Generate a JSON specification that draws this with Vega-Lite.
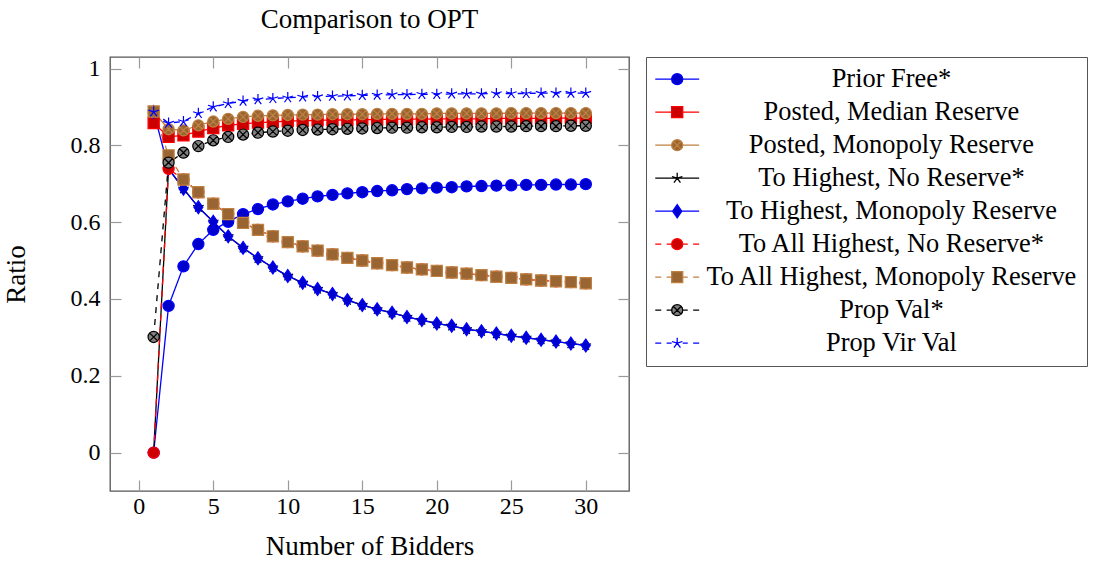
{
  "$schema": "https://vega.github.io/schema/vega-lite/v6.json",
  "background": "white",
  "padding": {"left": 2, "top": 6, "right": 2, "bottom": 2},
  "title": {"text": "Comparison to OPT", "font": "Liberation Serif", "fontSize": 27, "fontWeight": "normal", "color": "black", "anchor": "middle", "frame": "group", "offset": 22},
  "width": 519,
  "height": 434,
  "data": {"values": [
    {"series": "Prior Free*", "n": [1,2,3,4,5,6,7,8,9,10,11,12,13,14,15,16,17,18,19,20,21,22,23,24,25,26,27,28,29,30], "ratio": [0, 0.382, 0.485, 0.543, 0.580, 0.601, 0.621, 0.634, 0.646, 0.654, 0.661, 0.667, 0.671, 0.675, 0.678, 0.681, 0.683, 0.686, 0.688, 0.690, 0.691, 0.693, 0.694, 0.695, 0.696, 0.697, 0.697, 0.698, 0.698, 0.699]},
    {"series": "Posted, Median Reserve", "n": [1,2,3,4,5,6,7,8,9,10,11,12,13,14,15,16,17,18,19,20,21,22,23,24,25,26,27,28,29,30], "ratio": [0.858, 0.822, 0.826, 0.836, 0.845, 0.852, 0.856, 0.859, 0.861, 0.863, 0.864, 0.865, 0.866, 0.866, 0.867, 0.867, 0.868, 0.868, 0.868, 0.869, 0.869, 0.869, 0.869, 0.870, 0.870, 0.870, 0.870, 0.871, 0.871, 0.871]},
    {"series": "Posted, Monopoly Reserve", "n": [1,2,3,4,5,6,7,8,9,10,11,12,13,14,15,16,17,18,19,20,21,22,23,24,25,26,27,28,29,30], "ratio": [0.887, 0.842, 0.839, 0.852, 0.862, 0.869, 0.874, 0.877, 0.878, 0.879, 0.880, 0.880, 0.881, 0.881, 0.881, 0.882, 0.882, 0.882, 0.882, 0.883, 0.883, 0.883, 0.883, 0.883, 0.884, 0.884, 0.884, 0.884, 0.884, 0.884]},
    {"series": "To Highest, No Reserve*", "n": [1,2,3,4,5,6,7,8,9,10,11,12,13,14,15,16,17,18,19,20,21,22,23,24,25,26,27,28,29,30], "ratio": [0, 0.739, 0.687, 0.639, 0.601, 0.563, 0.533, 0.506, 0.482, 0.460, 0.442, 0.426, 0.413, 0.397, 0.384, 0.373, 0.364, 0.353, 0.345, 0.336, 0.330, 0.321, 0.316, 0.310, 0.304, 0.299, 0.294, 0.289, 0.284, 0.279]},
    {"series": "To Highest, Monopoly Reserve", "n": [1,2,3,4,5,6,7,8,9,10,11,12,13,14,15,16,17,18,19,20,21,22,23,24,25,26,27,28,29,30], "ratio": [0.887, 0.739, 0.687, 0.639, 0.601, 0.563, 0.533, 0.506, 0.482, 0.460, 0.442, 0.426, 0.413, 0.397, 0.384, 0.373, 0.364, 0.353, 0.345, 0.336, 0.330, 0.321, 0.316, 0.310, 0.304, 0.299, 0.294, 0.289, 0.284, 0.279]},
    {"series": "To All Highest, No Reserve*", "n": [1,2,3,4,5,6,7,8,9,10,11,12,13,14,15,16,17,18,19,20,21,22,23,24,25,26,27,28,29,30], "ratio": [0, 0.739, 0.711, 0.678, 0.648, 0.621, 0.598, 0.580, 0.563, 0.548, 0.537, 0.526, 0.516, 0.507, 0.500, 0.493, 0.488, 0.482, 0.477, 0.473, 0.469, 0.466, 0.462, 0.458, 0.455, 0.451, 0.448, 0.446, 0.444, 0.441]},
    {"series": "To All Highest, Monopoly Reserve", "n": [1,2,3,4,5,6,7,8,9,10,11,12,13,14,15,16,17,18,19,20,21,22,23,24,25,26,27,28,29,30], "ratio": [0.888, 0.774, 0.711, 0.678, 0.648, 0.621, 0.598, 0.580, 0.563, 0.548, 0.537, 0.526, 0.516, 0.507, 0.500, 0.493, 0.488, 0.482, 0.477, 0.473, 0.469, 0.466, 0.462, 0.458, 0.455, 0.451, 0.448, 0.446, 0.444, 0.441]},
    {"series": "Prop Val*", "n": [1,2,3,4,5,6,7,8,9,10,11,12,13,14,15,16,17,18,19,20,21,22,23,24,25,26,27,28,29,30], "ratio": [0.301, 0.755, 0.781, 0.798, 0.813, 0.822, 0.828, 0.833, 0.836, 0.838, 0.840, 0.841, 0.842, 0.843, 0.844, 0.845, 0.846, 0.846, 0.847, 0.847, 0.848, 0.848, 0.849, 0.849, 0.849, 0.850, 0.850, 0.850, 0.851, 0.851]},
    {"series": "Prop Vir Val", "n": [1,2,3,4,5,6,7,8,9,10,11,12,13,14,15,16,17,18,19,20,21,22,23,24,25,26,27,28,29,30], "ratio": [0.887, 0.858, 0.862, 0.883, 0.900, 0.909, 0.915, 0.919, 0.922, 0.924, 0.926, 0.927, 0.928, 0.929, 0.930, 0.931, 0.932, 0.932, 0.933, 0.933, 0.934, 0.934, 0.934, 0.935, 0.935, 0.935, 0.936, 0.936, 0.936, 0.936]}
  ]},
  "transform": [{"flatten": ["n", "ratio"]}],
  "layer": [
    {
      "mark": {"type": "line", "strokeWidth": 1.3},
      "encoding": {
        "x": {"field": "n", "type": "quantitative", "scale": {"domain": [-1.93, 32.9], "nice": false, "zero": false},
          "axis": {"orient": "bottom", "values": [0, 5, 10, 15, 20, 25, 30], "domain": false, "grid": false, "tickColor": "#9a9a9a", "tickWidth": 1.2, "tickSize": -11, "labelFont": "Liberation Serif", "labelFontSize": 24, "labelColor": "black", "labelPadding": 14, "title": "Number of Bidders", "titleFont": "Liberation Serif", "titleFontSize": 27, "titleFontWeight": "normal", "titleColor": "black", "titlePadding": 15}},
        "y": {"field": "ratio", "type": "quantitative", "scale": {"domain": [-0.1, 1.03], "nice": false, "zero": false},
          "axis": {"orient": "left", "values": [0, 0.2, 0.4, 0.6, 0.8, 1], "format": "~g", "domain": false, "grid": false, "tickColor": "#9a9a9a", "tickWidth": 1.2, "tickSize": -11, "labelFont": "Liberation Serif", "labelFontSize": 24, "labelColor": "black", "labelPadding": 21, "title": "Ratio", "titleFont": "Liberation Serif", "titleFontSize": 27, "titleFontWeight": "normal", "titleColor": "black", "titlePadding": 40}},
        "stroke": {"field": "series", "type": "nominal",
          "scale": {"domain": ["Prior Free*", "Posted, Median Reserve", "Posted, Monopoly Reserve", "To Highest, No Reserve*", "To Highest, Monopoly Reserve", "To All Highest, No Reserve*", "To All Highest, Monopoly Reserve", "Prop Val*", "Prop Vir Val"],
            "range": ["#0000ff", "#ff0000", "#bf8040", "#000000", "#0000ff", "#ff0000", "#bf8040", "#000000", "#0000ff"]}, "legend": null},
        "strokeDash": {"field": "series", "type": "nominal",
          "scale": {"domain": ["Prior Free*", "Posted, Median Reserve", "Posted, Monopoly Reserve", "To Highest, No Reserve*", "To Highest, Monopoly Reserve", "To All Highest, No Reserve*", "To All Highest, Monopoly Reserve", "Prop Val*", "Prop Vir Val"],
            "range": [[1, 0], [1, 0], [1, 0], [1, 0], [1, 0], [6, 6], [6, 6], [6, 6], [6, 6]]}, "legend": null}
      }
    },
    {
      "mark": {"type": "point", "filled": true, "size": 125, "strokeWidth": 1.2, "opacity": 1},
      "encoding": {
        "x": {"field": "n", "type": "quantitative",
          "axis": {"orient": "top", "values": [0, 5, 10, 15, 20, 25, 30], "domain": false, "grid": false, "labels": false, "title": null, "tickColor": "#9a9a9a", "tickWidth": 1.2, "tickSize": -11}},
        "y": {"field": "ratio", "type": "quantitative",
          "axis": {"orient": "right", "values": [0, 0.2, 0.4, 0.6, 0.8, 1], "domain": false, "grid": false, "labels": false, "title": null, "tickColor": "#9a9a9a", "tickWidth": 1.2, "tickSize": -11}},
        "stroke": {"field": "series", "type": "nominal",
          "scale": {"domain": ["Prior Free*", "Posted, Median Reserve", "Posted, Monopoly Reserve", "To Highest, No Reserve*", "To Highest, Monopoly Reserve", "To All Highest, No Reserve*", "To All Highest, Monopoly Reserve", "Prop Val*", "Prop Vir Val"],
            "range": ["#0000ff", "#ff0000", "#bf8040", "#000000", "#0000ff", "#ff0000", "#bf8040", "#000000", "#0000ff"]}, "legend": null},
        "fill": {"field": "series", "type": "nominal",
          "scale": {"domain": ["Prior Free*", "Posted, Median Reserve", "Posted, Monopoly Reserve", "To Highest, No Reserve*", "To Highest, Monopoly Reserve", "To All Highest, No Reserve*", "To All Highest, Monopoly Reserve", "Prop Val*", "Prop Vir Val"],
            "range": ["#0000cc", "#cc0000", "#996633", "#000000", "#0000cc", "#cc0000", "#996633", "#808080", "#0000ff"]}, "legend": null},
        "shape": {"field": "series", "type": "nominal",
          "scale": {"domain": ["Prior Free*", "Posted, Median Reserve", "Posted, Monopoly Reserve", "To Highest, No Reserve*", "To Highest, Monopoly Reserve", "To All Highest, No Reserve*", "To All Highest, Monopoly Reserve", "Prop Val*", "Prop Vir Val"],
            "range": ["circle", "square", "M1,0A1,1,0,1,1,-1,0A1,1,0,1,1,1,0ZM-0.7,-0.7L0.7,0.7M-0.7,0.7L0.7,-0.7", "M0,-1L0,0M0.951,-0.309L0,0M0.588,0.809L0,0M-0.588,0.809L0,0M-0.951,-0.309L0,0", "M0,-1.15L0.8,0L0,1.15L-0.8,0Z", "circle", "square", "M1,0A1,1,0,1,1,-1,0A1,1,0,1,1,1,0ZM-0.7,-0.7L0.7,0.7M-0.7,0.7L0.7,-0.7", "M0,-1L0,0M0.951,-0.309L0,0M0.588,0.809L0,0M-0.588,0.809L0,0M-0.951,-0.309L0,0"]}, "legend": null}
      }
    },
    {
      "transform": [{"filter": "false"}],
      "mark": {"type": "point", "filled": true, "size": 576, "strokeWidth": 1.3},
      "encoding": {
        "x": {"field": "n", "type": "quantitative", "axis": null},
        "y": {"field": "ratio", "type": "quantitative", "axis": null},
        "stroke": {"field": "series", "type": "nominal",
          "scale": {"domain": ["Prior Free*", "Posted, Median Reserve", "Posted, Monopoly Reserve", "To Highest, No Reserve*", "To Highest, Monopoly Reserve", "To All Highest, No Reserve*", "To All Highest, Monopoly Reserve", "Prop Val*", "Prop Vir Val"],
            "range": ["#0000ff", "#ff0000", "#bf8040", "#000000", "#0000ff", "#ff0000", "#bf8040", "#000000", "#0000ff"]}},
        "fill": {"field": "series", "type": "nominal",
          "scale": {"domain": ["Prior Free*", "Posted, Median Reserve", "Posted, Monopoly Reserve", "To Highest, No Reserve*", "To Highest, Monopoly Reserve", "To All Highest, No Reserve*", "To All Highest, Monopoly Reserve", "Prop Val*", "Prop Vir Val"],
            "range": ["#0000cc", "#cc0000", "#996633", "transparent", "#0000cc", "#cc0000", "#996633", "#808080", "transparent"]}},
        "shape": {"field": "series", "type": "nominal",
          "scale": {"domain": ["Prior Free*", "Posted, Median Reserve", "Posted, Monopoly Reserve", "To Highest, No Reserve*", "To Highest, Monopoly Reserve", "To All Highest, No Reserve*", "To All Highest, Monopoly Reserve", "Prop Val*", "Prop Vir Val"],
            "range": [
              "M-1.83,0H-0.46M0.46,0H1.83M0.46,0A0.46,0.46,0,1,1,-0.46,0A0.46,0.46,0,1,1,0.46,0Z",
              "M-1.83,0H-0.46M0.46,0H1.83M-0.46,-0.46H0.46V0.46H-0.46Z",
              "M-1.83,0H-0.46M0.46,0H1.83M0.46,0A0.46,0.46,0,1,1,-0.46,0A0.46,0.46,0,1,1,0.46,0ZM-0.33,-0.33L0.33,0.33M-0.33,0.33L0.33,-0.33",
              "M-1.83,0H1.83M0,-0.46L0,0M0.437,-0.142L0,0M0.27,0.372L0,0M-0.27,0.372L0,0M-0.437,-0.142L0,0",
              "M-1.83,0H-0.38M0.38,0H1.83M0,-0.55L0.38,0L0,0.55L-0.38,0Z",
              "M-1.83,0H-1.33M-0.88,0H-0.46M0.46,0H0.88M1.33,0H1.83M0.46,0A0.46,0.46,0,1,1,-0.46,0A0.46,0.46,0,1,1,0.46,0Z",
              "M-1.83,0H-1.33M-0.88,0H-0.46M0.46,0H0.88M1.33,0H1.83M-0.46,-0.46H0.46V0.46H-0.46Z",
              "M-1.83,0H-1.33M-0.88,0H-0.46M0.46,0H0.88M1.33,0H1.83M0.46,0A0.46,0.46,0,1,1,-0.46,0A0.46,0.46,0,1,1,0.46,0ZM-0.33,-0.33L0.33,0.33M-0.33,0.33L0.33,-0.33",
              "M-1.83,0H-1.33M-0.88,0H-0.46M0.46,0H0.88M1.33,0H1.83M0,-0.46L0,0M0.437,-0.142L0,0M0.27,0.372L0,0M-0.27,0.372L0,0M-0.437,-0.142L0,0"
            ]},
          "legend": {
            "title": null, "orient": "right", "offset": 16, "padding": 9, "strokeColor": "#555555", "fillColor": "white",
            "labelFont": "Liberation Serif", "labelFontSize": 26.4, "labelColor": "black", "labelAlign": "center", "labelBaseline": "middle", "labelOffset": 201, "labelLimit": 1000,
            "symbolSize": 576, "symbolOffset": 9, "rowPadding": 6, "symbolStrokeWidth": 1.3, "symbolOpacity": 1
          }}
      }
    }
  ],
  "resolve": {
    "axis": {"x": "independent", "y": "independent"},
    "scale": {"shape": "independent", "fill": "independent", "stroke": "independent"},
    "legend": {"shape": "independent", "fill": "independent", "stroke": "independent"}
  },
  "config": {
    "view": {"stroke": "#555555", "strokeWidth": 1.3},
    "legend": {"orient": "right", "offset": 16, "padding": 9, "strokeColor": "#555555", "fillColor": "white", "labelFont": "Liberation Serif", "labelFontSize": 26.4, "labelColor": "black", "labelAlign": "center", "labelBaseline": "middle", "labelOffset": 201, "labelLimit": 1000, "symbolSize": 576, "symbolOffset": 9, "rowPadding": 6, "symbolStrokeWidth": 1.3, "symbolOpacity": 1}
  }
}
